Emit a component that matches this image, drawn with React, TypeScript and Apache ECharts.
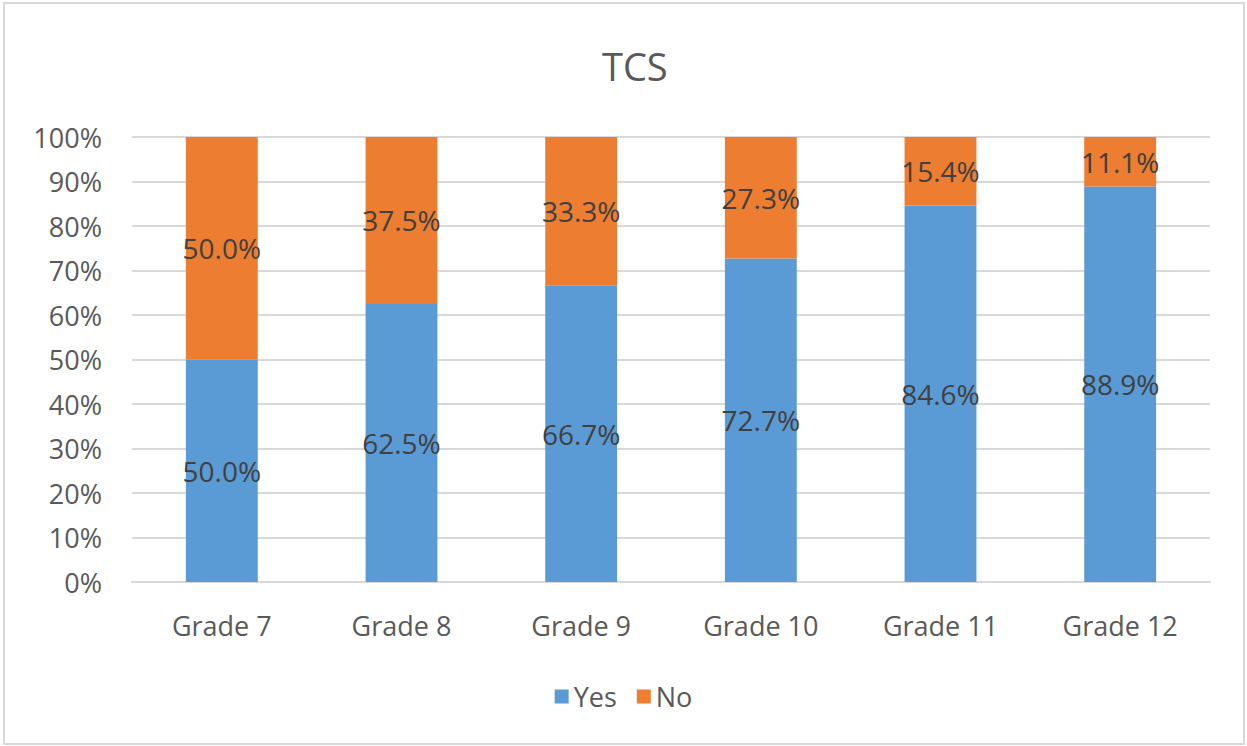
import React, { useEffect, useRef } from "react";
import * as echarts from "echarts";

const categories = ["Grade 7", "Grade 8", "Grade 9", "Grade 10", "Grade 11", "Grade 12"];
const yesValues = [50.0, 62.5, 66.7, 72.7, 84.6, 88.9];
const noValues = [50.0, 37.5, 33.3, 27.3, 15.4, 11.1];
const yTicks = [0, 10, 20, 30, 40, 50, 60, 70, 80, 90, 100];

const FONT = "Open Sans";

export default function App() {
  const ref = useRef<HTMLDivElement>(null);
  useEffect(() => {
    if (!ref.current) return;
    const chart = echarts.init(ref.current, null, { renderer: "svg" });
    const label = {
      show: true,
      position: "inside",
      color: "#404040",
      fontFamily: FONT,
      fontSize: 28,
      formatter: (p: any) => p.value.toFixed(1) + "%",
    };
    chart.setOption({
      animation: false,
      backgroundColor: "#ffffff",
      title: {
        text: "TCS",
        left: 597,
        top: 42,
        textStyle: { fontFamily: FONT, fontSize: 38, fontWeight: "normal", color: "#595959" },
      },
      graphic: [
        {
          type: "rect",
          shape: { x: 4, y: 3, width: 1240, height: 741 },
          style: { fill: "none", stroke: "#d9d9d9", lineWidth: 2 },
          silent: true,
        },
      ],
      legend: {
        bottom: 31,
        left: "center",
        itemWidth: 14,
        itemHeight: 14,
        itemGap: 20,
        icon: "rect",
        textStyle: { fontFamily: FONT, fontSize: 27, color: "#595959" },
        data: ["Yes", "No"],
      },
      grid: { left: 132, right: 37, top: 137, bottom: 164 },
      xAxis: {
        type: "category",
        data: categories,
        axisLine: { lineStyle: { color: "#d9d9d9", width: 2 } },
        axisTick: { show: false },
        axisLabel: { margin: 30, fontFamily: FONT, fontSize: 27, color: "#595959" },
      },
      yAxis: {
        type: "value",
        min: yTicks[0],
        max: yTicks[yTicks.length - 1],
        interval: 10,
        axisLine: { show: false },
        axisTick: { show: false },
        splitLine: { lineStyle: { color: "#d9d9d9", width: 2 } },
        axisLabel: {
          margin: 30,
          fontFamily: FONT,
          fontSize: 27,
          color: "#595959",
          formatter: (v: number) => v + "%",
        },
      },
      series: [
        {
          name: "Yes",
          type: "bar",
          stack: "total",
          barWidth: "40%",
          data: yesValues,
          itemStyle: { color: "#5b9bd5" },
          label,
        },
        {
          name: "No",
          type: "bar",
          stack: "total",
          barWidth: "40%",
          data: noValues,
          itemStyle: { color: "#ed7d31" },
          label,
        },
      ],
    });
    return () => chart.dispose();
  }, []);
  return (
    <div
      ref={ref}
      style={{ position: "fixed", left: 0, top: 0, width: 1247, height: 746 }}
    />
  );
}
